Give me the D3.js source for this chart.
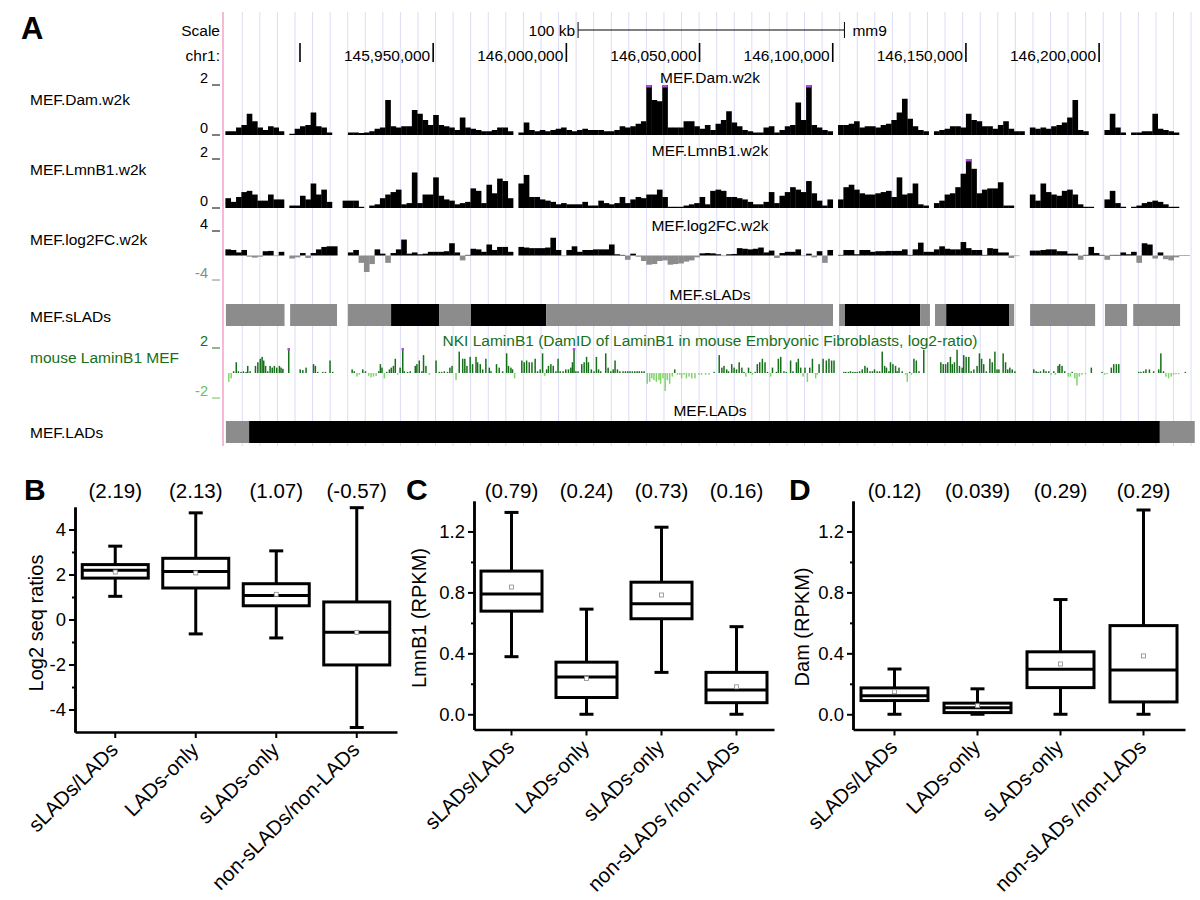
<!DOCTYPE html>
<html><head><meta charset="utf-8">
<script src="https://cdn.jsdelivr.net/npm/d3@7"></script>
<style>body{margin:0;background:#fff;} svg{display:block;font-family:"Liberation Sans",Arial,sans-serif;}</style>
</head><body><svg id="chart" width="1200" height="900"></svg>
<script>
// ---------------- DATA ----------------
const ORIGIN = 145872000;          // window origin (bp); bin / feature offsets are relative to it
const BIN = 2000;                  // w2k windows
const viewStart = 145871850, viewEnd = 146236000;
const scaleBarStart = 146004400, scaleBarLen = 100000;
const chrTicks = [145900000,145950000,146000000,146050000,146100000,146150000,146200000];
const chrTickLabels = ["","145,950,000","146,000,000","146,050,000","146,100,000","146,150,000","146,200,000"];

const damW2k = [0.15,0.15,0.3,0.4,0.85,0.55,0.3,0.2,0.35,0.3,0.15,null,0.05,0.25,0.35,0.4,0.9,0.35,0.3,0.1,
 null,null,null,0.1,0.1,0.08,0.1,0.15,0.25,0.3,1.4,0.35,0.3,0.35,0.35,1.0,0.85,0.6,0.4,0.8,
 0.4,0.35,0.3,0.2,0.7,0.3,0.25,0.2,0.15,0.15,0.2,0.3,0.3,0.15,null,0.1,0.5,0.2,0.15,0.2,
 0.15,0.2,0.25,0.3,0.2,0.15,0.2,0.25,0.2,0.2,0.2,0.15,0.15,0.2,0.35,0.3,0.35,0.45,0.55,2.2,
 1.4,1.35,2.2,0.3,0.3,0.3,0.55,0.55,0.35,0.25,0.4,0.2,0.45,0.6,0.95,0.5,0.35,0.2,0.15,0.1,
 0.1,0.3,0.35,0.1,0.2,0.35,0.4,1.3,0.6,2.2,0.4,0.3,0.2,0.15,null,0.4,0.4,0.45,0.55,0.3,
 0.35,0.35,0.3,0.4,0.45,0.6,0.9,1.45,0.65,0.35,0.2,0.15,null,0.15,0.2,0.25,0.35,0.35,0.3,0.85,
 0.6,0.55,0.35,0.35,0.25,0.4,0.55,0.25,0.15,0.15,null,0.3,0.25,0.3,0.25,0.35,0.4,0.5,0.7,1.4,
 0.2,0.15,null,null,null,0.2,0.85,0.3,0.1,null,0.1,0.1,0.15,0.15,0.85,0.25,0.2,0.15,0.1,null,
 null,null];

const lmnB1W2k = [0.4,0.25,0.45,0.65,0.7,0.55,0.3,0.3,0.55,0.35,0.35,null,0.1,0.1,0.5,0.35,1.0,0.55,0.75,0.25,
 null,null,0.3,0.3,0.3,0.05,null,0.1,0.15,0.4,0.55,0.65,0.75,0.15,0.2,1.45,0.2,0.55,0.55,1.25,
 0.5,0.35,0.3,0.15,0.2,0.25,0.8,0.7,0.2,0.95,0.6,1.2,1.1,0.4,null,1.0,1.35,0.45,0.45,0.35,
 0.3,0.25,0.15,0.2,0.15,0.15,0.15,0.25,0.1,0.1,0.3,0.2,0.15,0.2,0.45,0.2,0.35,0.45,0.4,0.55,
 0.55,0.75,0.45,0.05,0.05,0.05,0.1,0.15,0.2,0.45,0.15,0.7,0.75,0.7,0.45,0.45,0.4,0.35,0.25,0.15,
 0.15,0.25,0.65,0.2,0.5,0.65,0.85,0.75,0.65,1.1,0.6,0.3,0.1,0.35,null,0.35,0.85,0.95,0.75,0.6,
 0.55,0.55,0.6,0.65,0.7,0.45,1.25,0.55,0.6,1.0,0.15,0.1,null,0.2,0.3,0.55,0.6,0.85,1.4,2.1,
 1.6,0.6,0.75,0.8,0.8,1.05,0.1,0.1,null,null,null,0.55,0.3,1.0,0.65,0.55,0.5,0.7,0.75,0.55,
 0.15,0.05,0.05,null,null,0.35,0.7,0.2,0.05,null,0.05,0.1,0.2,0.25,0.3,0.25,0.15,0.05,0.05,null,
 null,null];

const log2FCW2k = [1.0,0.9,0.5,0.9,-0.2,-0.35,-0.2,0.7,0.75,-0.1,0.6,null,-0.5,-0.3,0.4,-0.4,0.4,1.0,1.4,1.5,
 1.5,null,null,0.5,0.9,-1.2,-2.7,-1.4,1.0,0.3,-1.2,0.4,1.0,2.6,0.3,0.5,0.2,0.3,0.6,0.6,
 0.6,0.7,2.0,0.5,-0.8,0.1,1.1,1.0,0.6,1.8,0.9,1.4,1.4,0.6,null,1.4,1.3,1.2,1.2,1.2,
 1.3,2.9,0.9,-0.1,0.9,1.5,0.6,0.9,0.9,1.0,1.0,1.0,1.8,0.2,0.1,-0.7,0.3,-0.2,-0.9,-1.5,
 -1.4,-0.9,-0.8,-1.5,-1.4,-1.3,-1.0,-0.8,-0.3,0.35,0.4,0.35,0.2,-0.1,0.2,0.25,1.2,1.1,1.0,1.1,
 1.3,0.5,0.8,-0.4,0.4,0.6,0.6,1.0,-0.1,0.3,-0.3,0.7,-1.2,0.9,null,0.1,0.9,0.9,0.2,0.9,
 0.9,0.6,0.7,0.7,0.75,0.75,0.75,1.0,0.1,1.0,2.1,0.6,0.6,1.0,1.5,1.1,1.0,1.0,2.2,1.2,
 0.9,0.9,0.1,1.2,1.1,0.5,0.5,-0.4,-0.1,null,null,0.8,0.8,0.9,1.0,1.0,0.7,0.7,0.3,0.3,
 -0.7,0.1,1.4,0.4,0.1,-0.7,0.1,0.1,0.5,0.2,0.6,-1.2,2.0,1.8,-0.5,0.5,-0.6,-0.8,-0.3,0.05,
 0.05,null];

// sLADs / LADs features: kb offsets from ORIGIN
const sLadStartKb = [0.2,24.3,46.0,62.2,80.2,92.2,120.4,230.4,232.6,260.8,266.4,270.6,294.2,302.1,330.2,340.8];
const sLadEndKb   = [22.2,41.9,62.2,80.2,92.2,120.4,228.1,232.6,260.8,264.5,270.6,294.2,296.1,326.5,338.5,358.4];
const sLadClass   = ["g","g","g","b","g","b","g","g","b","g","g","b","g","g","g","g"];
const ladStartKb = [0.2,8.9,350.8];
const ladEndKb   = [8.9,350.8,363.9];
const ladClass   = ["g","b","g"];

// NKI LaminB1 DamID probes: [kb offset from ORIGIN, log2-ratio]
const nkiProbes = [[1.0,-0.71],[1.9,-0.43],[2.8,0.14],[3.8,0.86],[4.6,0.14],[5.6,0.09],[6.5,0.14],[7.5,0.09],[8.1,0.57],[9.0,0.14],
[11.0,0.57],[11.9,0.86],[12.8,1.14],[13.5,1.29],[14.1,1.0],[14.8,0.57],[15.6,0.14],[16.5,0.57],[17.3,0.43],[18.1,0.57],
[19.0,0.43],[20.0,0.57],[20.6,0.43],[21.3,0.34],[23.5,2.3],
[27.8,0.29],[28.8,0.23],[30.0,0.43],[32.8,0.71],[33.5,0.57],[34.4,0.09],[36.3,0.09],[37.3,0.09],[39.0,1.0],[40.0,0.09],
[47.3,0.29],[48.1,0.14],[49.1,-0.29],[50.0,-0.14],[51.3,0.29],[52.3,0.14],[53.5,-0.23],[54.4,-0.34],[55.3,-0.29],[56.3,-0.23],
[57.3,0.14],[57.9,0.71],[58.5,0.43],[59.4,-0.43],[60.3,0.09],[61.3,0.29],[62.0,0.43],[62.8,0.57],[63.5,1.14],[64.4,-0.14],
[65.3,0.43],[66.3,2.3],[66.9,0.14],[68.1,0.09],[69.1,0.14],[71.0,0.57],[71.6,0.71],[72.5,1.0],[73.5,0.14],[74.1,1.43],
[75.0,0.57],[76.3,-0.14],[78.8,1.0],[80.0,0.09],[80.9,0.09],[81.9,0.14],[83.1,0.09],[84.0,0.43],[84.8,0.57],[86.3,-0.57],
[87.5,1.71],[88.8,1.14],[89.6,1.14],[90.4,0.57],[91.6,1.29],[92.5,0.71],[93.8,1.29],[94.4,0.86],[95.4,0.71],[96.3,0.29],
[97.5,1.14],[98.8,0.43],[99.4,0.14],[101.5,0.71],[102.5,0.43],[103.8,0.14],[105.3,1.57],[106.0,0.57],[106.9,0.43],[107.5,0.29],
[108.3,-0.43],[111.0,1.0],[111.9,0.86],[112.8,1.0],[113.8,0.86],[114.8,0.86],[116.0,1.14],[116.9,0.14],[117.9,0.29],[118.8,1.57],
[119.6,-0.23],[120.3,0.29],[121.0,0.57],[121.9,0.71],[122.8,0.57],[123.8,0.14],[124.6,1.14],[125.4,0.14],[126.5,0.14],[127.5,0.29],
[128.5,0.29],[129.4,0.43],[130.0,0.86],[130.6,2.3],[131.3,0.14],[132.1,0.14],[133.5,0.71],[134.4,0.86],[135.3,1.29],[136.0,0.86],
[137.1,0.29],[138.1,0.14],[139.0,1.29],[139.8,0.29],[140.6,0.14],[142.5,1.57],[143.4,0.43],[144.4,0.14],[145.3,0.29],[146.0,1.0],
[146.9,0.29],[147.8,0.14],[149.0,0.14],[149.9,0.14],[150.8,0.14],[151.6,0.14],[152.5,0.14],[153.4,0.14],[154.3,0.14],[155.1,0.14],
[156.0,0.14],[156.9,0.14],[158.1,-0.86],[159.0,-0.71],[159.8,-0.43],[160.6,-0.57],[161.5,-0.71],[162.5,-0.57],[163.1,-0.86],[164.0,-0.43],
[164.8,-1.43],[165.6,-0.57],[166.5,-0.86],[167.5,-0.29],[168.4,0.29],[169.4,-0.14],[170.3,-0.14],[171.0,-0.43],[171.9,-0.14],[172.8,-0.43],
[173.8,-0.29],[174.8,-0.43],[176.0,-0.43],[177.5,-0.14],[178.5,-0.14],[180.0,-0.14],[181.3,-0.14],
[183.2,0.09],[185.1,1.43],[186.1,0.43],[186.9,0.57],[187.9,0.29],[188.6,0.14],[189.8,0.71],[190.7,0.43],[191.6,0.29],[192.6,0.86],
[193.6,0.43],[194.4,0.09],[195.1,-0.29],[196.1,0.43],[196.9,0.09],[197.6,-0.14],[198.6,0.09],[199.4,0.71],[200.3,0.86],[201.3,1.14],
[202.3,0.86],[203.2,0.09],[204.4,-0.29],[205.1,0.43],[206.6,0.09],[207.3,1.14],[208.2,1.29],[209.4,0.14],[210.3,0.09],[211.9,1.0],
[212.8,0.14],[214.1,0.86],[214.8,1.14],[215.7,0.43],[216.6,-0.29],[217.3,0.43],[218.2,-0.71],[219.1,0.43],[220.1,1.14],[221.3,-0.43],
[221.9,-0.14],[222.6,0.71],[224.1,1.14],[225.3,1.0],[226.3,1.14],[227.3,1.0],[228.2,1.0],
[231.9,0.09],[232.6,0.09],[233.6,0.09],[234.4,0.14],[235.3,0.09],[236.1,0.09],[236.9,0.09],[237.8,0.14],[238.8,0.29],[239.8,0.57],
[240.7,0.43],[241.7,0.14],[242.6,0.14],[243.4,0.29],[244.4,0.14],[245.3,0.14],[246.3,1.71],[247.2,0.57],[247.9,0.43],[248.8,0.14],
[249.4,0.86],[250.3,0.71],[251.3,0.57],[251.9,0.14],[252.6,0.43],[253.8,0.14],[255.1,-0.14],[255.7,-0.71],[256.6,0.09],[257.3,-0.14],
[258.2,1.14],[259.1,1.0],[260.1,0.14],[261.9,1.86],
[268.3,0.86],[269.2,0.71],[270.1,0.71],[270.9,0.86],[271.9,1.29],[272.6,0.71],[273.4,0.86],[274.4,1.86],[275.3,0.57],[276.3,0.43],
[276.9,1.43],[277.8,1.29],[278.8,1.29],[279.7,0.14],[280.7,0.29],[281.9,0.57],[282.8,1.57],[283.6,1.14],[284.4,0.71],[285.4,0.14],
[286.7,1.14],[287.6,0.86],[288.6,1.71],[289.4,0.29],[290.1,0.29],[291.7,1.57],[292.6,0.86],[293.4,0.29],[294.2,0.43],[295.1,0.29],
[296.1,0.14],
[303.2,0.29],[304.1,0.14],[304.8,0.09],[305.7,0.14],[306.9,0.29],[307.8,0.14],[308.8,0.14],[309.7,-0.14],[310.7,0.14],[311.3,-0.14],
[312.3,0.57],[312.9,0.71],[313.8,0.57],[314.8,0.14],[316.1,-0.29],[316.9,-0.29],[317.6,0.09],[318.6,-0.43],[319.4,-1.0],[320.3,-0.29],
[321.3,-0.14],[322.6,-0.09],[324.8,0.43],[328.8,0.09],[329.8,-0.14],[330.7,-0.09],[332.3,0.43],[333.2,0.71],[334.2,0.71],[335.1,0.71],
[342.6,0.09],[343.4,0.09],[344.4,0.14],[345.3,0.29],[346.6,0.29],[348.2,0.14],[350.1,0.29],[350.9,1.57],[351.9,0.14],[352.8,-0.29],
[353.8,-0.43],[354.8,-0.29],[355.7,-0.14],[356.6,-0.09],[357.6,-0.09],[360.1,0.09]];

// Box plots
const boxCats = ["sLADs/LADs","LADs-only","sLADs-only","non-sLADs/non-LADs"];
const boxCatsCD = ["sLADs/LADs","LADs-only","sLADs-only","non-sLADs /non-LADs"];
const bMin=[1.03,-0.64,-0.82,-4.8], bQ1=[1.84,1.40,0.61,-2.02], bMed=[2.19,2.13,1.07,-0.57], bQ3=[2.44,2.72,1.59,0.78], bMax=[3.26,4.74,3.05,4.97], bMean=[2.11,2.07,1.12,-0.57];
const bNotes=["(2.19)","(2.13)","(1.07)","(-0.57)"];
const cMin=[0.378,0,0.275,0], cQ1=[0.677,0.11,0.627,0.076], cMed=[0.79,0.244,0.726,0.16], cQ3=[0.94,0.342,0.867,0.275], cMax=[1.325,0.69,1.228,0.575], cMean=[0.835,0.235,0.783,0.18];
const cNotes=["(0.79)","(0.24)","(0.73)","(0.16)"];
const dMin=[0,0,0,0], dQ1=[0.09,0.011,0.175,0.081], dMed=[0.122,0.043,0.295,0.29], dQ3=[0.173,0.073,0.41,0.582], dMax=[0.297,0.167,0.753,1.341], dMean=[0.148,0.056,0.33,0.383];
const dNotes=["(0.12)","(0.039)","(0.29)","(0.29)"];

// ---------------- DRAW ----------------
const svg = d3.select("#chart");
const xG = d3.scaleLinear().domain([viewStart, viewEnd]).range([225, 1195]);
const kbX = kb => xG(ORIGIN + kb*1000);
const GREEN="#16701a", LGREEN="#7fd46a", PURPLE="#b04ce0", GRAY="#8c8c8c";
const FS = 15.5;

// guide lines
const guideStart = 145878340, guideStep = 6596;
svg.append("g").selectAll("line").data(d3.range(guideStart, viewEnd, guideStep)).join("line")
  .attr("x1", d=>xG(d)).attr("x2", d=>xG(d)).attr("y1", 12).attr("y2", 446)
  .attr("stroke", "#dcdcf6").attr("stroke-width", 1);
svg.append("line").attr("x1",223).attr("x2",223).attr("y1",12).attr("y2",446).attr("stroke","#f2a3c8").attr("stroke-width",1.5);

svg.append("text").attr("x",21).attr("y",39).attr("font-size",31).attr("font-weight","bold").text("A");

const t = (x,y,s,opt={}) => svg.append("text").attr("x",x).attr("y",y).attr("font-size",opt.size||FS).attr("fill",opt.fill||"#000").attr("text-anchor",opt.anchor||"start").text(s);
t(220,36,"Scale",{anchor:"end"});
t(220,61,"chr1:",{anchor:"end"});
const sb0 = xG(scaleBarStart), sb1 = xG(scaleBarStart+scaleBarLen);
svg.append("line").attr("x1",sb0).attr("x2",sb1).attr("y1",30).attr("y2",30).attr("stroke","#000");
[sb0,sb1].forEach(x=>svg.append("line").attr("x1",x).attr("x2",x).attr("y1",22).attr("y2",38).attr("stroke","#000"));
t(sb0-3,36,"100 kb",{anchor:"end"});
t(sb1+8,36,"mm9");
svg.append("g").selectAll("line").data(chrTicks).join("line")
  .attr("x1",d=>xG(d)).attr("x2",d=>xG(d)).attr("y1",43).attr("y2",62).attr("stroke","#000").attr("stroke-width",1.6);
svg.append("g").selectAll("text").data(chrTicks).join("text")
  .attr("x",d=>xG(d)-3).attr("y",61).attr("text-anchor","end").attr("font-size",FS).text((d,i)=>chrTickLabels[i]);

function trackAxis(yv, label, color){
  t(208, yv-2, label, {anchor:"end", size:14.5, fill:color});
  svg.append("line").attr("x1",212).attr("x2",220).attr("y1",yv).attr("y2",yv).attr("stroke",color).attr("stroke-width",1);
}
function leftLabel(y, s, color){ t(30, y+5, s, {fill:color||"#000"}); }
function centerTitle(y, s, color){ t(710, y+5, s, {anchor:"middle", fill:color||"#000"}); }

function binTrack(vals, y, pos, neg){
  const g = svg.append("g");
  const items = vals.map((v,i)=>({v,i})).filter(d=>d.v!==null);
  const [lo,hi] = y.domain();
  const cl = v => Math.max(lo,Math.min(hi,v));
  g.selectAll("rect.b").data(items).join("rect")
    .attr("x", d=>xG(ORIGIN+d.i*BIN))
    .attr("width", d=>xG(ORIGIN+(d.i+1)*BIN)-xG(ORIGIN+d.i*BIN)+0.3)
    .attr("y", d=>Math.min(y(0), y(cl(d.v))))
    .attr("height", d=>Math.abs(y(0)-y(cl(d.v))))
    .attr("fill", d=>d.v>=0?pos:neg);
  g.selectAll("rect.c").data(items.filter(d=>d.v>hi)).join("rect")
    .attr("x", d=>xG(ORIGIN+d.i*BIN)).attr("width", d=>xG(ORIGIN+(d.i+1)*BIN)-xG(ORIGIN+d.i*BIN))
    .attr("y", y(hi)).attr("height", 2.5).attr("fill", PURPLE);
}

const yDam = d3.scaleLinear().domain([0,2]).range([135,85]);
centerTitle(78,"MEF.Dam.w2k"); leftLabel(100,"MEF.Dam.w2k");
trackAxis(85,"2","#000"); trackAxis(135,"0","#000");
binTrack(damW2k, yDam, "#000", GRAY);

const yLmn = d3.scaleLinear().domain([0,2]).range([208,159]);
centerTitle(151,"MEF.LmnB1.w2k"); leftLabel(170,"MEF.LmnB1.w2k");
trackAxis(159,"2","#000"); trackAxis(208,"0","#000");
binTrack(lmnB1W2k, yLmn, "#000", GRAY);

const yFC = d3.scaleLinear().domain([-4,4]).range([280,231]);
centerTitle(226,"MEF.log2FC.w2k"); leftLabel(240,"MEF.log2FC.w2k");
trackAxis(231,"4","#000"); trackAxis(280,"-4","#888");
binTrack(log2FCW2k, yFC, "#000", GRAY);

centerTitle(295,"MEF.sLADs"); leftLabel(317,"MEF.sLADs");
svg.append("g").selectAll("rect").data(sLadStartKb).join("rect")
  .attr("x",(d,i)=>kbX(d)).attr("width",(d,i)=>kbX(sLadEndKb[i])-kbX(d))
  .attr("y",304).attr("height",22).attr("fill",(d,i)=>sLadClass[i]==="b"?"#000":GRAY);

const yNki = d3.scaleLinear().domain([-2,2]).range([398,348]);
centerTitle(341,"NKI LaminB1 (DamID of LaminB1 in mouse Embryonic Fibroblasts, log2-ratio)",GREEN);
leftLabel(358,"mouse LaminB1 MEF",GREEN);
trackAxis(348,"2",GREEN); trackAxis(398,"-2","#66c455");
const clN = v => Math.max(-2,Math.min(2,v));
svg.append("g").selectAll("rect").data(nkiProbes).join("rect")
  .attr("x",d=>kbX(d[0])).attr("width",1.5)
  .attr("y",d=>Math.min(yNki(0), yNki(clN(d[1]))))
  .attr("height",d=>Math.max(0.9,Math.abs(yNki(0)-yNki(clN(d[1])))))
  .attr("fill",d=>d[1]>=0?GREEN:LGREEN);
svg.append("g").selectAll("rect").data(nkiProbes.filter(d=>d[1]>2)).join("rect")
  .attr("x",d=>kbX(d[0])-0.5).attr("width",2.5).attr("y",yNki(2)).attr("height",2.5).attr("fill",PURPLE);

centerTitle(411,"MEF.LADs"); leftLabel(433,"MEF.LADs");
svg.append("g").selectAll("rect").data(ladStartKb).join("rect")
  .attr("x",(d,i)=>kbX(d)).attr("width",(d,i)=>kbX(ladEndKb[i])-kbX(d))
  .attr("y",421).attr("height",22).attr("fill",(d,i)=>ladClass[i]==="b"?"#000":GRAY);

// ---------- Box panels ----------
function boxPanel(o){
  const g = svg.append("g");
  const x = d3.scaleBand().domain(o.cats).range([o.x0,o.x1]);
  const y = d3.scaleLinear().domain(o.domain).range([o.yB,o.yT]);
  const styleAxis = s => { s.selectAll("path.domain").attr("stroke-width",2.5); s.selectAll(".tick line").attr("stroke-width",2); s.selectAll(".tick text").attr("font-size",18.5).attr("font-family","Liberation Sans, Arial, sans-serif").attr("fill","#000"); };
  g.append("g").attr("transform",`translate(${o.x0},0)`)
    .call(d3.axisLeft(y).tickValues(o.major).tickSize(6).tickSizeOuter(0).tickPadding(3).tickFormat(o.fmt)).call(styleAxis);
  g.append("g").attr("transform",`translate(${o.x0},0)`)
    .call(d3.axisLeft(y).tickValues(o.minor).tickSize(3).tickSizeOuter(0).tickFormat("")).call(styleAxis);
  g.append("g").attr("transform",`translate(0,${o.yB})`)
    .call(d3.axisBottom(x).tickSize(6).tickSizeOuter(0).tickFormat("")).call(styleAxis);
  const cx = c => x(c)+x.bandwidth()/2;
  const idx = o.cats.map((c,i)=>i);
  const bw = o.boxW, cw = 14;
  g.selectAll("line.wl").data(idx).join("line").attr("x1",i=>cx(o.cats[i])).attr("x2",i=>cx(o.cats[i]))
    .attr("y1",i=>y(o.min[i])).attr("y2",i=>y(o.q1[i])).attr("stroke","#000").attr("stroke-width",3);
  g.selectAll("line.wh").data(idx).join("line").attr("x1",i=>cx(o.cats[i])).attr("x2",i=>cx(o.cats[i]))
    .attr("y1",i=>y(o.q3[i])).attr("y2",i=>y(o.max[i])).attr("stroke","#000").attr("stroke-width",3);
  [o.min,o.max].forEach(arr=>{
    g.append("g").selectAll("line").data(idx).join("line").attr("x1",i=>cx(o.cats[i])-cw/2).attr("x2",i=>cx(o.cats[i])+cw/2)
      .attr("y1",i=>y(arr[i])).attr("y2",i=>y(arr[i])).attr("stroke","#000").attr("stroke-width",3);
  });
  g.selectAll("rect.box").data(idx).join("rect").attr("x",i=>cx(o.cats[i])-bw/2).attr("width",bw)
    .attr("y",i=>y(o.q3[i])).attr("height",i=>y(o.q1[i])-y(o.q3[i]))
    .attr("fill","#fff").attr("stroke","#000").attr("stroke-width",3);
  g.selectAll("line.med").data(idx).join("line").attr("x1",i=>cx(o.cats[i])-bw/2).attr("x2",i=>cx(o.cats[i])+bw/2)
    .attr("y1",i=>y(o.med[i])).attr("y2",i=>y(o.med[i])).attr("stroke","#000").attr("stroke-width",3);
  g.selectAll("rect.mean").data(idx).join("rect").attr("x",i=>cx(o.cats[i])-2).attr("y",i=>y(o.mean[i])-2)
    .attr("width",4).attr("height",4).attr("fill","#fff").attr("stroke","#888").attr("stroke-width",0.8);
  g.selectAll("text.note").data(idx).join("text").attr("x",i=>cx(o.cats[i])).attr("y",498)
    .attr("text-anchor","middle").attr("font-size",20.5).text(i=>o.notes[i]);
  g.selectAll("text.cat").data(o.cats).join("text")
    .attr("transform",c=>`translate(${cx(c)+4},${o.yB+19}) rotate(-45)`)
    .attr("text-anchor","end").attr("font-size",20.5).text(c=>c);
  g.append("text").attr("transform",`translate(${o.titleX},${o.titleY}) rotate(-90)`)
    .attr("text-anchor","middle").attr("font-size",20).text(o.title);
  g.append("text").attr("x",o.letterX).attr("y",500).attr("font-size",30).attr("font-weight","bold").text(o.letter);
}

boxPanel({cats:boxCats, x0:75, x1:397, yB:732, yT:507, domain:[-5,5], major:[-4,-2,0,2,4], minor:[-3,-1,1,3],
  fmt:d=>String(d), min:bMin,q1:bQ1,med:bMed,q3:bQ3,max:bMax,mean:bMean,notes:bNotes, boxW:66,
  title:"Log2 seq ratios", titleX:43, titleY:623, letter:"B", letterX:24});
boxPanel({cats:boxCatsCD, x0:474, x1:774, yB:729.5, yT:501, domain:[-0.1,1.4], major:[0,0.4,0.8,1.2], minor:[0.2,0.6,1.0],
  fmt:d3.format(".1f"), min:cMin,q1:cQ1,med:cMed,q3:cQ3,max:cMax,mean:cMean,notes:cNotes, boxW:61,
  title:"LmnB1 (RPKM)", titleX:426, titleY:618, letter:"C", letterX:406});
boxPanel({cats:boxCatsCD, x0:853, x1:1185, yB:729.5, yT:501, domain:[-0.1,1.4], major:[0,0.4,0.8,1.2], minor:[0.2,0.6,1.0],
  fmt:d3.format(".1f"), min:dMin,q1:dQ1,med:dMed,q3:dQ3,max:dMax,mean:dMean,notes:dNotes, boxW:67,
  title:"Dam (RPKM)", titleX:809, titleY:627, letter:"D", letterX:789});
</script></body></html>
